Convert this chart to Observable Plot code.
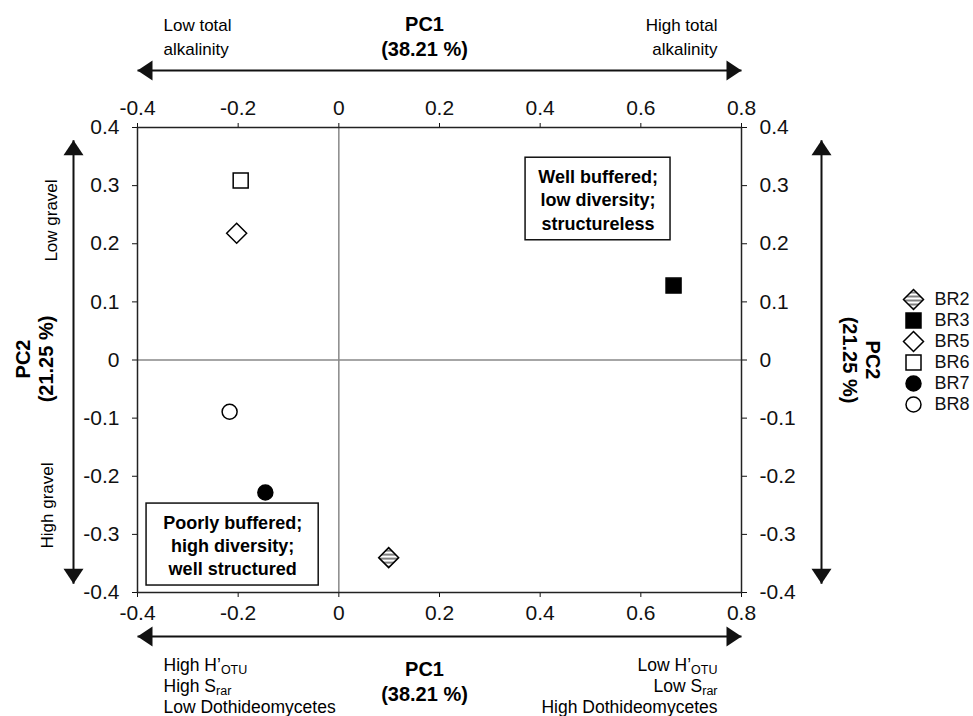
<!DOCTYPE html>
<html>
<head>
<meta charset="utf-8">
<script src="https://cdn.jsdelivr.net/npm/d3@7"></script>
<script src="https://cdn.jsdelivr.net/npm/@observablehq/plot@0.6"></script>
<style>
  html, body { margin: 0; padding: 0; background: #fff; }
  #wrap { position: relative; width: 973px; height: 716px; font-family: "Liberation Sans", Arial, sans-serif; }
  #legend { position: absolute; left: 890px; top: 280px; }
</style>
</head>
<body>
<div id="wrap"><div id="chart"></div><div id="legend"></div></div>
<script>
// ---------- data ----------
const names = ["BR2", "BR3", "BR5", "BR6", "BR7", "BR8"];
const pc1 = [0.099, 0.665, -0.203, -0.195, -0.146, -0.217];
const pc2 = [-0.340, 0.128, 0.218, 0.309, -0.228, -0.089];
const xTicks = [-0.4, -0.2, 0, 0.2, 0.4, 0.6, 0.8];
const yTicks = [-0.4, -0.3, -0.2, -0.1, 0, 0.1, 0.2, 0.3, 0.4];
const xDomain = [-0.4, 0.8];
const yDomain = [-0.4, 0.4];
const boxLabels = ["Well buffered;\nlow diversity;\nstructureless", "Poorly buffered;\nhigh diversity;\nwell structured"];
const boxX1 = [0.371, -0.382];
const boxX2 = [0.659, -0.040];
const boxY1 = [0.348, -0.247];
const boxY2 = [0.206, -0.388];
const pcAxisLabel1 = "PC1\n(38.21 %)";
const pcAxisLabel2 = "PC2\n(21.25 %)";
const topLeftText = "Low total\nalkalinity";
const topRightText = "High total\nalkalinity";
const bottomLeftText = "High H’_{OTU}\nHigh S_{rar}\nLow Dothideomycetes";
const bottomRightText = "Low H’_{OTU}\nLow S_{rar}\nHigh Dothideomycetes";
const lowGravel = "Low gravel";
const highGravel = "High gravel";
const vArrowY = [0.378, -0.385];

const points = names.map((n, i) => ({name: n, x: pc1[i], y: pc2[i]}));
const boxes = boxLabels.map((t, i) => ({text: t, x1: boxX1[i], x2: boxX2[i], y1: boxY1[i], y2: boxY2[i]}));

// ---------- styles ----------
const symSquare = {draw(c) { c.rect(-7.5, -7.5, 15, 15); }};
const symDiamond = {draw(c) { c.moveTo(0, -10); c.lineTo(10, 0); c.lineTo(0, 10); c.lineTo(-10, 0); c.closePath(); }};
const symCircle = {draw(c) { c.moveTo(7.5, 0); c.arc(0, 0, 7.5, 0, 2 * Math.PI); }};
const headR = {draw(c) { c.moveTo(0, 0); c.lineTo(-15, -10); c.lineTo(-15, 10); c.closePath(); }};
const headL = {draw(c) { c.moveTo(0, 0); c.lineTo(15, -10); c.lineTo(15, 10); c.closePath(); }};
const headU = {draw(c) { c.moveTo(0, 0); c.lineTo(-10, 15); c.lineTo(10, 15); c.closePath(); }};
const headD = {draw(c) { c.moveTo(0, 0); c.lineTo(-10, -15); c.lineTo(10, -15); c.closePath(); }};
const symbolOf = {BR2: symDiamond, BR3: symSquare, BR5: symDiamond, BR6: symSquare, BR7: symCircle, BR8: symCircle};
const fillOf = {BR2: "url(#hatch)", BR3: "black", BR5: "white", BR6: "white", BR7: "black", BR8: "white"};
const FONT = "'Liberation Sans', Arial, sans-serif";
const INK = "#111";

const arrowMarks = [
  Plot.link([0], {x1: () => xDomain[0], x2: () => xDomain[1], y1: () => yDomain[1], y2: () => yDomain[1], dy: -57, stroke: INK, strokeWidth: 2}),
  Plot.dot([0], {x: () => xDomain[0], y: () => yDomain[1], dy: -57, symbol: headL, fill: INK}),
  Plot.dot([0], {x: () => xDomain[1], y: () => yDomain[1], dy: -57, symbol: headR, fill: INK}),
  Plot.link([0], {x1: () => xDomain[0], x2: () => xDomain[1], y1: () => yDomain[0], y2: () => yDomain[0], dy: 44, stroke: INK, strokeWidth: 2}),
  Plot.dot([0], {x: () => xDomain[0], y: () => yDomain[0], dy: 44, symbol: headL, fill: INK}),
  Plot.dot([0], {x: () => xDomain[1], y: () => yDomain[0], dy: 44, symbol: headR, fill: INK}),
  Plot.link([0], {x1: () => xDomain[0], x2: () => xDomain[0], y1: () => vArrowY[0], y2: () => vArrowY[1], dx: -64, stroke: INK, strokeWidth: 2}),
  Plot.dot([0], {x: () => xDomain[0], y: () => vArrowY[0], dx: -64, symbol: headU, fill: INK}),
  Plot.dot([0], {x: () => xDomain[0], y: () => vArrowY[1], dx: -64, symbol: headD, fill: INK}),
  Plot.link([0], {x1: () => xDomain[1], x2: () => xDomain[1], y1: () => vArrowY[0], y2: () => vArrowY[1], dx: 80, stroke: INK, strokeWidth: 2}),
  Plot.dot([0], {x: () => xDomain[1], y: () => vArrowY[0], dx: 80, symbol: headU, fill: INK}),
  Plot.dot([0], {x: () => xDomain[1], y: () => vArrowY[1], dx: 80, symbol: headD, fill: INK})
];

const T = {lineAnchor: "middle", fill: "black"};
const textMarks = [
  Plot.text([pcAxisLabel1], {...T, frameAnchor: "top", textAnchor: "middle", dx: -15, dy: -92.5, fontSize: 20, fontWeight: "bold", lineHeight: 1.25}),
  Plot.text([topLeftText], {...T, frameAnchor: "top-left", textAnchor: "start", dx: 26, dy: -92, fontSize: 17, lineHeight: 1.41}),
  Plot.text([topRightText], {...T, frameAnchor: "top-right", textAnchor: "end", dx: -24, dy: -92, fontSize: 17, lineHeight: 1.41}),
  Plot.text([pcAxisLabel1], {...T, frameAnchor: "bottom", textAnchor: "middle", dx: -15, dy: 87.5, fontSize: 20, fontWeight: "bold", lineHeight: 1.25}),
  Plot.text([bottomLeftText], {...T, frameAnchor: "bottom-left", textAnchor: "start", dx: 26, dy: 92.5, fontSize: 17.5, lineHeight: 1.2}),
  Plot.text([bottomRightText], {...T, frameAnchor: "bottom-right", textAnchor: "end", dx: -24, dy: 92.5, fontSize: 17.5, lineHeight: 1.2}),
  Plot.text([pcAxisLabel2], {...T, frameAnchor: "left", textAnchor: "middle", rotate: -90, dx: -103.5, dy: -1, fontSize: 20, fontWeight: "bold", lineHeight: 1.18}),
  Plot.text([pcAxisLabel2], {...T, frameAnchor: "right", textAnchor: "middle", rotate: 90, dx: 120.5, dy: 0, fontSize: 20, fontWeight: "bold", lineHeight: 1.18}),
  Plot.text([lowGravel], {...T, frameAnchor: "left", textAnchor: "middle", rotate: -90, dx: -86, dy: -139.5, fontSize: 17}),
  Plot.text([highGravel], {...T, frameAnchor: "left", textAnchor: "middle", rotate: -90, dx: -90, dy: 145.5, fontSize: 17})
];

const chart = Plot.plot({
  width: 973, height: 716,
  marginLeft: 137, marginRight: 232, marginTop: 127, marginBottom: 124,
  style: {background: "white", fontFamily: FONT, fontSize: "21px", color: "#111"},
  x: {domain: xDomain, axis: "both", ticks: xTicks, tickSize: 5, tickPadding: 8, tickFormat: d => String(d), label: null},
  y: {domain: yDomain, axis: "both", ticks: yTicks, tickSize: 5, tickPadding: 13, tickFormat: d => String(d), label: null},
  symbol: {domain: names, range: names.map(n => symbolOf[n])},
  color: {type: "identity"},
  marks: [
    Plot.ruleX([0], {stroke: "#888", strokeWidth: 1.5}),
    Plot.ruleY([0], {stroke: "#888", strokeWidth: 1.5}),
    Plot.frame({stroke: "#222", strokeWidth: 1.5}),
    Plot.rect(boxes, {x1: "x1", x2: "x2", y1: "y1", y2: "y2", fill: "white", stroke: "#111", strokeWidth: 1.5}),
    Plot.text(boxes, {x: d => (d.x1 + d.x2) / 2, y: d => (d.y1 + d.y2) / 2, text: "text", fontSize: 18, fontWeight: "bold", lineHeight: 1.3, fill: "black", lineAnchor: "middle"}),
    Plot.dot(points, {x: "x", y: "y", symbol: "name", fill: d => fillOf[d.name], stroke: "black", strokeWidth: 1.5}),
    ...arrowMarks,
    ...textMarks
  ]
});

// hatch pattern
const defs = d3.select(chart).insert("defs", ":first-child");
const pat = defs.append("pattern").attr("id", "hatch").attr("patternUnits", "userSpaceOnUse").attr("width", 4).attr("height", 4);
pat.append("rect").attr("width", 4).attr("height", 4).attr("fill", "white");
pat.append("rect").attr("width", 4).attr("height", 2).attr("fill", "#808080");

// subscripts
function subscripts(root) {
  root.querySelectorAll("text, tspan").forEach(el => {
    if (el.childElementCount === 0 && /_\{/.test(el.textContent)) {
      const s = el.textContent;
      el.textContent = "";
      const re = /_\{([^}]*)\}/g;
      let last = 0, m;
      while ((m = re.exec(s))) {
        if (m.index > last) el.appendChild(document.createTextNode(s.slice(last, m.index)));
        const t = document.createElementNS("http://www.w3.org/2000/svg", "tspan");
        t.setAttribute("font-size", "12.5");
        t.setAttribute("baseline-shift", "-3");
        t.textContent = m[1];
        el.appendChild(t);
        last = re.lastIndex;
      }
      if (last < s.length) el.appendChild(document.createTextNode(s.slice(last)));
    }
  });
}
subscripts(chart);
document.getElementById("chart").appendChild(chart);

// legend
const legend = Plot.plot({
  width: 83, height: 140, margin: 0,
  style: {background: "transparent", fontFamily: FONT, color: "#111"},
  x: {axis: null},
  y: {type: "point", domain: names, range: [17, 125.5], padding: 0, axis: null},
  symbol: {domain: names, range: names.map(n => symbolOf[n])},
  color: {type: "identity"},
  marks: [
    Plot.dot(names, {y: d => d, frameAnchor: "left", dx: 23, symbol: d => d, fill: d => fillOf[d], stroke: "black", strokeWidth: 1.5}),
    Plot.text(names, {y: d => d, frameAnchor: "left", dx: 44, textAnchor: "start", lineAnchor: "middle", fontSize: 18, fill: "#111"})
  ]
});
document.getElementById("legend").appendChild(legend);
</script>
</body>
</html>
